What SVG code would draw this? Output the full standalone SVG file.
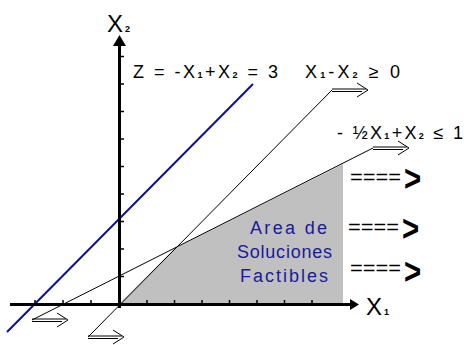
<svg xmlns="http://www.w3.org/2000/svg" width="464" height="345" viewBox="0 0 464 345">
<style>
text{font-family:"Liberation Sans",Arial,sans-serif;fill:#000}
.lbl{font-size:18px}
.sub{font-size:9px;font-weight:bold}
.thin{stroke:#000;stroke-width:1;fill:none}
.axis{stroke:#000;stroke-width:3;fill:none}
.tick{stroke:#000;stroke-width:1.5}
.area{fill:#1a1a9a;font-size:18px}
.eq{font-size:20px}
.chev{font-size:28px;font-weight:bold}
</style>
<defs>
<g id="oarrow"><path d="M0,0 H34 M0,2.5 H30" class="thin"/><path d="M25,-6 L36,1 L25,8" class="thin" stroke-width="1.3"/></g>
</defs>
<rect width="464" height="345" fill="#fff"/>
<g id="region"><polygon points="119,304 174.5,248.5 343,164 343,304" fill="#c0c0c0"/></g>
<g id="connectors">
<line class="thin" x1="32" y1="320" x2="373" y2="148"/>
<line class="thin" x1="88" y1="337" x2="332" y2="90"/>
<line x1="7" y1="332" x2="253" y2="84" stroke="#10108c" stroke-width="2"/>
<use href="#oarrow" x="332" y="89"/>
<use href="#oarrow" x="373" y="147"/>
<use href="#oarrow" x="32" y="319"/>
<use href="#oarrow" x="88" y="336"/>
</g>
<g id="axes">
<line class="axis" x1="10" y1="304.5" x2="352" y2="304.5"/>
<polygon points="350,299 359,304.5 350,310" fill="#000"/>
<line class="axis" x1="119.5" y1="308" x2="119.5" y2="44"/>
<polygon points="113,46 119.5,35 126,46" fill="#000"/>
<g class="tick">
<line x1="35" y1="303" x2="35" y2="300"/><line x1="63" y1="303" x2="63" y2="300"/><line x1="91" y1="303" x2="91" y2="300"/>
<line x1="147" y1="303" x2="147" y2="300"/><line x1="174.5" y1="303" x2="174.5" y2="300"/><line x1="202" y1="303" x2="202" y2="300"/><line x1="229.5" y1="303" x2="229.5" y2="300"/><line x1="257" y1="303" x2="257" y2="300"/><line x1="284.5" y1="303" x2="284.5" y2="300"/><line x1="312" y1="303" x2="312" y2="300"/>
<line x1="121" y1="276.5" x2="124" y2="276.5"/><line x1="121" y1="249" x2="124" y2="249"/><line x1="121" y1="221.5" x2="124" y2="221.5"/><line x1="121" y1="194" x2="124" y2="194"/><line x1="121" y1="166.5" x2="124" y2="166.5"/><line x1="121" y1="139" x2="124" y2="139"/><line x1="121" y1="111.5" x2="124" y2="111.5"/><line x1="121" y1="84" x2="124" y2="84"/><line x1="121" y1="56.5" x2="124" y2="56.5"/>
</g>
</g>
<g id="x2label"><text x="107" y="32" font-size="24">X<tspan class="sub" font-size="10" dx="2">2</tspan></text></g>
<g id="x1label"><text x="366" y="315" font-size="24">X<tspan class="sub" font-size="10" dx="2">1</tspan></text></g>
<g id="zlabel"><text class="lbl" x="133" y="78" textLength="145" lengthAdjust="spacing">Z = -X<tspan class="sub">1</tspan>+X<tspan class="sub">2</tspan> = 3</text></g>
<g id="c1label"><text class="lbl" x="305" y="78" textLength="95" lengthAdjust="spacing">X<tspan class="sub">1</tspan>-X<tspan class="sub">2</tspan> ≥ 0</text></g>
<g id="c2label"><text class="lbl" x="337" y="139" textLength="126" lengthAdjust="spacing">- ½X<tspan class="sub">1</tspan>+X<tspan class="sub">2</tspan> ≤ 1</text></g>
<g id="area">
<text class="area" x="250" y="234" textLength="77" lengthAdjust="spacing">Area de</text>
<text class="area" x="237" y="258" textLength="95" lengthAdjust="spacing">Soluciones</text>
<text class="area" x="240" y="282" textLength="88" lengthAdjust="spacing">Factibles</text>
</g>
<g id="arrows">
<text class="eq" x="350" y="184" textLength="51" lengthAdjust="spacingAndGlyphs">====</text><text class="chev" transform="translate(404,191) scale(1.05,1.32)">&gt;</text>
<text class="eq" x="348" y="234" textLength="51" lengthAdjust="spacingAndGlyphs">====</text><text class="chev" transform="translate(402,241) scale(1.05,1.32)">&gt;</text>
<text class="eq" x="350" y="275" textLength="51" lengthAdjust="spacingAndGlyphs">====</text><text class="chev" transform="translate(404,284) scale(1.05,1.32)">&gt;</text>
</g>
</svg>
